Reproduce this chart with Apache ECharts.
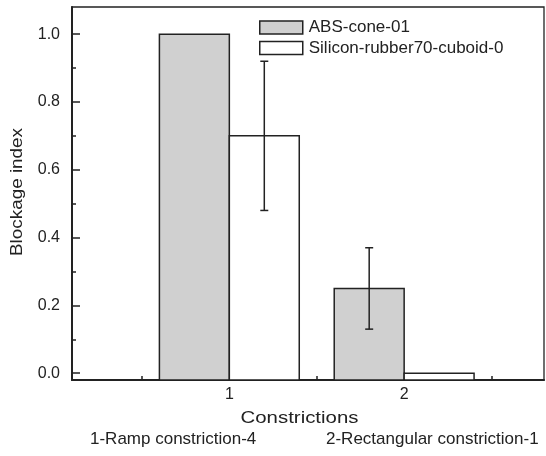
<!DOCTYPE html>
<html>
<head>
<meta charset="utf-8">
<script src="https://cdn.jsdelivr.net/npm/echarts@6/dist/echarts.min.js"></script>
<style>
  html, body { margin: 0; padding: 0; background: #fff; }
  #chart { width: 546px; height: 456px; }
</style>
</head>
<body>
<div id="chart"></div>
<script>
// Constriction positions on the x axis
var categories = [1, 2];
var categoryLabels = ['1', '2'];
// Blockage index per material, with symmetric error (± half range)
var absValues = [1.0, 0.25];
var absErrors = [0, 0.12];
var siliconValues = [0.70, 0.0];
var siliconErrors = [0.22, 0];
// Axis ticks
var yMajorTicks = [0, 0.2, 0.4, 0.6, 0.8, 1.0];
var yMinorTicks = [0.1, 0.3, 0.5, 0.7, 0.9];
var xMinorTicks = [0.5, 1.5, 2.5];
var seriesNames = ['ABS-cone-01', 'Silicon-rubber70-cuboid-0'];

var X_MIN = 0.1, X_MAX = 2.8;
var Y_MIN = -0.02, Y_MAX = 1.08;
var BAR_W = 0.4;
var FONT = '"Liberation Sans", Arial, sans-serif';
var INK = '#222';

function makeData(values, errors) {
  return categories.map(function (c, i) { return [c, values[i], errors[i]]; });
}

// Bars sit side by side: first series left of the category, second right of it.
function barRenderer(side, fill) {
  return function (params, api) {
    var c = api.value(0), v = api.value(1), e = api.value(2);
    var x0 = side < 0 ? c - BAR_W : c;
    var x1 = side < 0 ? c : c + BAR_W;
    var pTop = api.coord([x0, v]);
    var pBase = api.coord([x1, Y_MIN]);
    var children = [{
      type: 'rect',
      shape: { x: pTop[0], y: pTop[1], width: pBase[0] - pTop[0], height: pBase[1] - pTop[1] },
      style: { fill: fill, stroke: INK, lineWidth: 1.5 }
    }];
    if (e > 0) {
      var xc = (x0 + x1) / 2;
      var hi = api.coord([xc, v + e]);
      var lo = api.coord([xc, v - e]);
      var cap = 4;
      var st = { stroke: INK, lineWidth: 1.5 };
      children.push(
        { type: 'line', shape: { x1: hi[0], y1: hi[1], x2: lo[0], y2: lo[1] }, style: st },
        { type: 'line', shape: { x1: hi[0] - cap, y1: hi[1], x2: hi[0] + cap, y2: hi[1] }, style: st },
        { type: 'line', shape: { x1: lo[0] - cap, y1: lo[1], x2: lo[0] + cap, y2: lo[1] }, style: st }
      );
    }
    return { type: 'group', children: children };
  };
}

var chart = echarts.init(document.getElementById('chart'), null, { renderer: 'canvas' });

chart.setOption({
  animation: false,
  backgroundColor: '#fff',
  grid: {
    left: 72, right: 2, top: 7, bottom: 76,
    show: true, borderColor: INK, borderWidth: 1.3, backgroundColor: 'transparent'
  },
  legend: {
    orient: 'vertical',
    left: 259, top: 19,
    padding: 0,
    itemWidth: 43, itemHeight: 13, itemGap: 3.5,
    icon: 'rect',
    itemStyle: { borderColor: INK, borderWidth: 1.5 },
    textStyle: { fontFamily: FONT, fontSize: 17, color: INK, lineHeight: 17, padding: [0, 0, 0, 1] },
    data: seriesNames
  },
  xAxis: [{
    type: 'value', min: X_MIN, max: X_MAX, position: 'bottom',
    splitLine: { show: false },
    axisLine: { show: true, onZero: false, lineStyle: { color: INK, width: 2 } },
    axisTick: { show: true, inside: true, length: 8, customValues: categories, lineStyle: { color: INK, width: 1.5 } },
    axisLabel: {
      show: true, customValues: categories, margin: 7,
      formatter: function (v) { return categoryLabels[categories.indexOf(v)]; },
      fontFamily: FONT, fontSize: 16, color: INK
    }
  }, {
    type: 'value', min: X_MIN, max: X_MAX, position: 'bottom',
    splitLine: { show: false },
    axisLine: { show: false, onZero: false },
    axisTick: { show: true, inside: true, length: 4, customValues: xMinorTicks, lineStyle: { color: INK, width: 1.5 } },
    axisLabel: { show: false }
  }],
  yAxis: [{
    type: 'value', min: Y_MIN, max: Y_MAX, position: 'left',
    splitLine: { show: false },
    axisLine: { show: true, onZero: false, lineStyle: { color: INK, width: 2 } },
    axisTick: { show: true, inside: true, length: 8, customValues: yMajorTicks, lineStyle: { color: INK, width: 1.5 } },
    axisLabel: {
      show: true, customValues: yMajorTicks, margin: 12,
      formatter: function (v) { return v.toFixed(1); },
      fontFamily: FONT, fontSize: 16, color: INK
    }
  }, {
    type: 'value', min: Y_MIN, max: Y_MAX, position: 'left',
    splitLine: { show: false },
    axisLine: { show: false, onZero: false },
    axisTick: { show: true, inside: true, length: 4, customValues: yMinorTicks, lineStyle: { color: INK, width: 1.5 } },
    axisLabel: { show: false }
  }],
  series: [{
    name: seriesNames[0],
    type: 'custom',
    xAxisIndex: 0, yAxisIndex: 0,
    encode: { x: 0, y: 1 },
    itemStyle: { color: '#d0d0d0', borderColor: INK, borderWidth: 1.5 },
    renderItem: barRenderer(-1, '#d0d0d0'),
    data: makeData(absValues, absErrors)
  }, {
    name: seriesNames[1],
    type: 'custom',
    xAxisIndex: 0, yAxisIndex: 0,
    encode: { x: 0, y: 1 },
    itemStyle: { color: '#ffffff', borderColor: INK, borderWidth: 1.5 },
    renderItem: barRenderer(1, '#ffffff'),
    data: makeData(siliconValues, siliconErrors)
  }],
  graphic: [{
    type: 'text', x: 17, y: 192, rotation: Math.PI / 2, scaleX: 1.11,
    style: { text: 'Blockage index', fontFamily: FONT, fontSize: 17, fill: INK, align: 'center', verticalAlign: 'middle' }
  }, {
    type: 'text', x: 299.5, y: 418, scaleX: 1.2,
    style: { text: 'Constrictions', fontFamily: FONT, fontSize: 17, fill: INK, align: 'center', verticalAlign: 'middle' }
  }, {
    type: 'text', x: 90, y: 439,
    style: { text: '1-Ramp constriction-4', fontFamily: FONT, fontSize: 17, fill: INK, align: 'left', verticalAlign: 'middle' }
  }, {
    type: 'text', x: 326, y: 439,
    style: { text: '2-Rectangular constriction-1', fontFamily: FONT, fontSize: 17, fill: INK, align: 'left', verticalAlign: 'middle' }
  }]
});
</script>
</body>
</html>
